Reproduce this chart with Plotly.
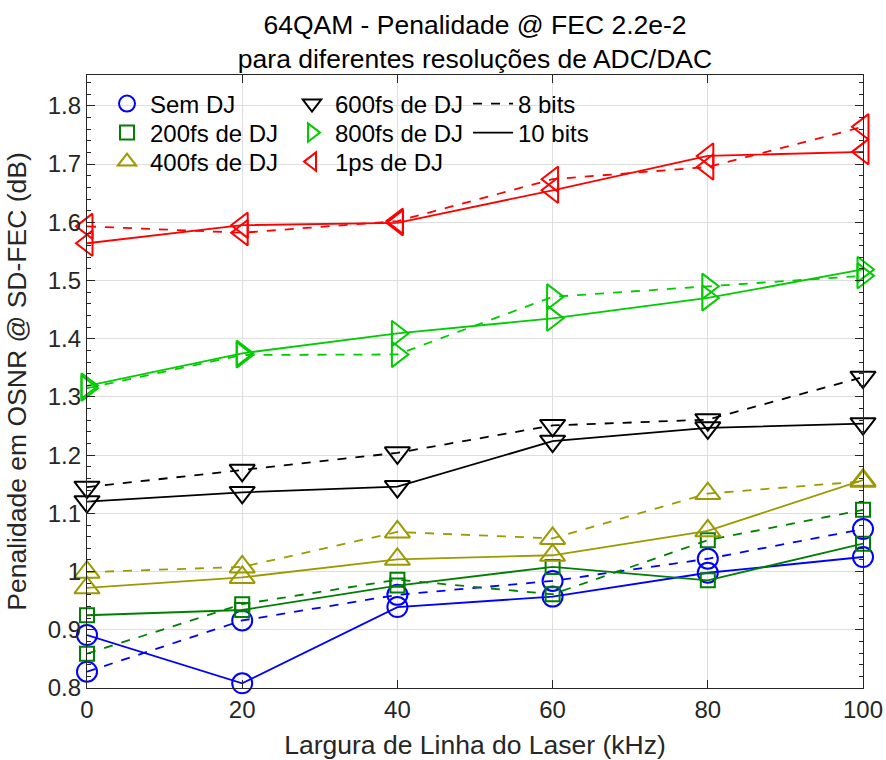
import plotly.graph_objects as go

# ---------------- data ----------------
linewidth_khz = [0, 20, 40, 60, 80, 100]

dj_labels = ["Sem DJ", "200fs de DJ", "400fs de DJ", "600fs de DJ", "800fs de DJ", "1ps de DJ"]

# 8 bits (dashed)
sem_dj_8 = [0.828, 0.916, 0.960, 0.984, 1.022, 1.073]
dj200_8 = [0.859, 0.944, 0.986, 0.961, 1.054, 1.106]
dj400_8 = [0.999, 1.008, 1.068, 1.057, 1.134, 1.155]
dj600_8 = [1.145, 1.174, 1.204, 1.251, 1.261, 1.334]
dj800_8 = [1.315, 1.372, 1.373, 1.472, 1.490, 1.508]
dj1ps_8 = [1.593, 1.582, 1.602, 1.674, 1.695, 1.764]

# 10 bits (solid)
sem_dj_10 = [0.891, 0.808, 0.939, 0.957, 0.998, 1.025]
dj200_10 = [0.925, 0.934, 0.976, 1.008, 0.985, 1.048]
dj400_10 = [0.972, 0.990, 1.021, 1.028, 1.070, 1.157]
dj600_10 = [1.120, 1.136, 1.146, 1.224, 1.247, 1.254]
dj800_10 = [1.319, 1.375, 1.409, 1.435, 1.470, 1.519]
dj1ps_10 = [1.564, 1.595, 1.599, 1.655, 1.714, 1.721]

series_8 = [sem_dj_8, dj200_8, dj400_8, dj600_8, dj800_8, dj1ps_8]
series_10 = [sem_dj_10, dj200_10, dj400_10, dj600_10, dj800_10, dj1ps_10]

bits_labels = ["8 bits", "10 bits"]

# ---------------- style ----------------
colors = ["#0000FF", "#007F00", "#9C9A00", "#000000", "#00CC00", "#FF0000"]
symbols = ["circle-open", "square-open", "triangle-up-open", "triangle-down-open",
           "triangle-right-open", "triangle-left-open"]
sizes = [20, 14, 22, 22, 22, 22]
FONT = "Liberation Sans, Arial, Helvetica, sans-serif"

# the page body margin is removed by a post script, so the figure sits at (0, 0)
W, H = 886, 760
# plot area in page pixels: x 87..863, y 75..688
L, T = 87, 75
R, B = W - 863, H - 688
pw, ph = W - L - R, H - T - B


def px_x(px):  # page px -> paper x
    return (px - L) / pw


def px_y(py):  # page px -> paper y
    return (H - B - py) / ph


fig = go.Figure()

for i in range(6):
    for ys, dash in ((series_8[i], "dash"), (series_10[i], "solid")):
        fig.add_trace(go.Scatter(
            x=linewidth_khz, y=ys, mode="lines+markers", cliponaxis=False,
            line=dict(color=colors[i], width=1.8, dash=dash),
            marker=dict(symbol=symbols[i], size=sizes[i], color=colors[i],
                        line=dict(color=colors[i], width=2)),
            showlegend=False, hoverinfo="x+y"))

# legend layout: one single-entry legend per cell (column-major like the reference)
row_y = [104, 133, 162]
col_x = [104, 289]
legend_defs = {}
k = 0
for i in range(6):
    k += 1
    name = "legend" if k == 1 else f"legend{k}"
    legend_defs[name] = (col_x[i // 3], row_y[i % 3], 36)
    fig.add_trace(go.Scatter(
        x=[None], y=[None], mode="markers", name=dj_labels[i],
        marker=dict(symbol=symbols[i], size=sizes[i], color=colors[i],
                    line=dict(color=colors[i], width=2)),
        legend=name))

for j, (lbl, dash) in enumerate(zip(bits_labels, ["dash", "solid"])):
    k += 1
    name = f"legend{k}"
    legend_defs[name] = (468, row_y[j], 40)
    fig.add_trace(go.Scatter(
        x=[None], y=[None], mode="lines", name=lbl,
        line=dict(color="black", width=1.8, dash=dash),
        legend=name))

legend_layout = {}
for name, (lx, ly, iw) in legend_defs.items():
    legend_layout[name] = dict(
        x=px_x(lx), y=px_y(ly), xanchor="left", yanchor="middle",
        bgcolor="rgba(0,0,0,0)", borderwidth=0, itemwidth=iw,
        font=dict(family=FONT, size=24, color="black"))

fig.update_layout(
    width=W, height=H,
    margin=dict(l=L, r=R, t=T, b=B, pad=0),
    paper_bgcolor="white", plot_bgcolor="white",
    font=dict(family=FONT, size=24, color="#262626"),
    title=dict(text="64QAM - Penalidade @ FEC 2.2e-2<br>para diferentes resoluções de ADC/DAC",
               x=0.5, xref="paper", xanchor="center",
               y=1 - 34 / H, yref="container", yanchor="middle",
               font=dict(family=FONT, size=26.5, color="black")),
    xaxis=dict(
        range=[0, 100], dtick=20, tick0=0,
        title=dict(text="Largura de Linha do Laser (kHz)", font=dict(size=26.5, color="#262626"), standoff=13),
        showgrid=True, gridcolor="#DFDFDF", gridwidth=1,
        showline=True, linecolor="#262626", linewidth=1.3, mirror="allticks",
        ticks="inside", ticklen=8, tickcolor="#262626", tickwidth=1.3,
        tickfont=dict(size=24, color="#262626"), zeroline=False, automargin=False,
    ),
    yaxis=dict(
        range=[0.8, 1.853], dtick=0.1, tick0=0.8,
        title=dict(text="Penalidade em OSNR @ SD-FEC (dB)", font=dict(size=26.5, color="#262626"), standoff=13),
        showgrid=True, gridcolor="#DFDFDF", gridwidth=1,
        showline=True, linecolor="#262626", linewidth=1.3, mirror="allticks",
        ticks="inside", ticklen=8, tickcolor="#262626", tickwidth=1.3,
        minor=dict(dtick=0.02, ticks="inside", ticklen=4, tickcolor="#262626", showgrid=False),
        tickfont=dict(size=24, color="#262626"), zeroline=False, automargin=False,
    ),
    **legend_layout,
)

fig.write_html("out.html",
               config={"displayModeBar": False},
               post_script="document.body.style.margin='0px'; document.body.style.overflow='hidden';")
